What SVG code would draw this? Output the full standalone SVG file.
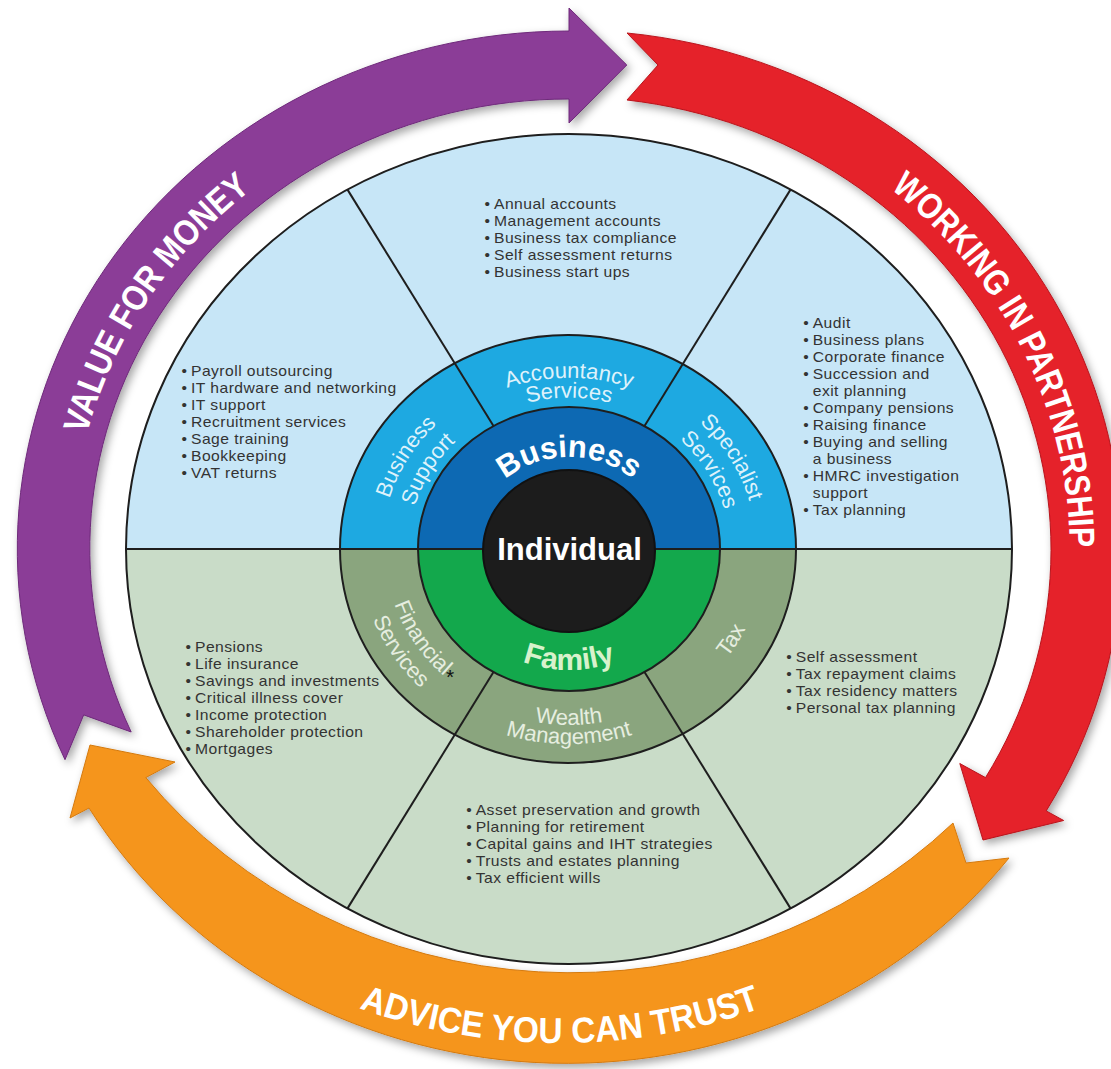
<svg xmlns="http://www.w3.org/2000/svg" width="1111" height="1069" viewBox="0 0 1111 1069">
<defs>
<style>
.bl{font-family:"Liberation Sans",Arial,Helvetica,sans-serif;font-size:14px;fill:#333;letter-spacing:.4px}
.rl{font-family:"Liberation Sans",Arial,sans-serif;font-size:22px;text-anchor:middle}
.rt{fill:#def2fb}
.rb{fill:#e6eee0}
.bg{font-family:"Liberation Sans",Arial,sans-serif;font-weight:bold;font-size:31px;text-anchor:middle}
.at{font-family:"Liberation Sans",Arial,sans-serif;font-weight:bold;font-size:36px;fill:#fff;text-anchor:middle}
.ln{stroke:#1e1e1e;stroke-width:2;fill:none}
</style>
<filter id="sh" x="-10%" y="-10%" width="130%" height="130%">
<feDropShadow dx="3" dy="4" stdDeviation="4" flood-color="#000" flood-opacity=".35"/>
</filter>
<path id="tpPurple" d="M71.9,532.7 A497.4,467 0 0 1 335.5,136.7"/>
<path id="tpRed" d="M856.1,164 A500.6,470 0 0 1 1067.7,590"/>
<path id="tpOrange" d="M198.1,919.2 A563,529 0 0 0 921.9,919.2"/>
<path id="tpAcc1" d="M398.4,490.8 A181.05,170 0 0 1 739.6,490.8"/>
<path id="tpAcc2" d="M418.4,497.7 A159.75,150 0 0 1 719.6,497.7"/>
<path id="tpBs1" d="M392.9,609.2 A187.44,176 0 0 1 536.5,375.7"/>
<path id="tpBs2" d="M417.9,600.6 A160.8,151 0 0 1 541.1,400.3"/>
<path id="tpSp1" d="M601.5,375.7 A187.44,176 0 0 1 745.1,609.2"/>
<path id="tpSp2" d="M596.9,400.3 A160.8,151 0 0 1 720.1,600.6"/>
<path id="tpWe1" d="M392.9,609.2 A187.44,176 0 0 0 745.1,609.2"/>
<path id="tpWe2" d="M373.8,615.7 A207.7,195 0 0 0 764.2,615.7"/>
<path id="tpFi1" d="M393.8,495.5 A184.2,173 0 0 0 543.4,720.3"/>
<path id="tpFi2" d="M369.5,488.1 A209.8,197 0 0 0 539.8,744.1"/>
<path id="tpTax" d="M603,730.2 A195.96,184 0 0 0 753.1,486.1"/>
<path id="tpBus" d="M476.9,517.5 A98,92 0 0 1 661.1,517.5"/>
<path id="tpFam" d="M447.9,590.4 A128.9,121 0 0 0 690.1,590.4"/>
</defs>

<rect width="1111" height="1069" fill="#ffffff"/>

<!-- Outer arrows -->
<g id="arrow-value-for-money">
<path filter="url(#sh)" fill="#8b3c97" stroke="#6e2a7a" stroke-width="1" d="M65,759.7 A551.7,518 0 0 1 569,31 L569,8 L626.8,65 L569,123 L569,99 A479.25,450 0 0 0 131.2,732 L83.7,714.9 Z"/>
<text class="at"><textPath href="#tpPurple" startOffset="50%" textLength="300" lengthAdjust="spacingAndGlyphs">VALUE FOR MONEY</textPath></text>
</g>
<g id="arrow-working-in-partnership">
<path filter="url(#sh)" fill="#e5202a" stroke="#b8161d" stroke-width="1" d="M627,33 A552.7,519 0 0 1 1046.2,810.9 L1063.7,820.5 L983,840 L959.8,763.5 L985.5,777.6 A482.4,453 0 0 0 627,100 L658,65 Z"/>
<text class="at"><textPath href="#tpRed" startOffset="50%" textLength="415" lengthAdjust="spacingAndGlyphs">WORKING IN PARTNERSHIP</textPath></text>
</g>
<g id="arrow-advice-you-can-trust">
<path filter="url(#sh)" fill="#f5951f" stroke="#d47a10" stroke-width="1" d="M1009,858 L966,863 L953,823 A538,505 0 0 1 145.8,777.6 L175,762 L90,745 L70,818 L89,808 A556,522 0 0 0 1009,858 Z"/>
<text class="at"><textPath href="#tpOrange" startOffset="50%" textLength="410" lengthAdjust="spacingAndGlyphs">ADVICE YOU CAN TRUST</textPath></text>
</g>

<!-- Main wheel fills -->
<g id="wheel">
<path fill="#c7e6f7" d="M126,549 A443,415 0 0 1 1012,549 Z"/>
<path fill="#c9dcc8" d="M126,549 A443,415 0 0 0 1012,549 Z"/>
<path fill="#1ea9e1" d="M340,549 A228,214 0 0 1 796,549 Z"/>
<path fill="#8aa57e" d="M340,549 A228,214 0 0 0 796,549 Z"/>
<path fill="#0d69b3" d="M418,549 A151,142 0 0 1 720,549 Z"/>
<path fill="#13a84c" d="M418,549 A151,142 0 0 0 720,549 Z"/>
</g>

<!-- Divider lines -->
<g id="connectors" class="ln">
<line x1="126" y1="549" x2="1012" y2="549"/>
<line x1="493.5" y1="426" x2="347.5" y2="189.6"/>
<line x1="644.5" y1="426" x2="790.5" y2="189.6"/>
<line x1="493.5" y1="672" x2="347.5" y2="908.4"/>
<line x1="644.5" y1="672" x2="790.5" y2="908.4"/>
<ellipse cx="569" cy="549" rx="443" ry="415"/>
<ellipse cx="568" cy="549" rx="228" ry="214"/>
<ellipse cx="569" cy="549" rx="151" ry="142"/>
</g>

<g id="individual">
<ellipse cx="569" cy="551" rx="86" ry="81" fill="#1c1c1c" stroke="#111" stroke-width="2"/>
<text class="bg" x="569.5" y="560" fill="#ffffff">Individual</text>
</g>
<g id="business">
<text class="bg" fill="#ffffff"><textPath href="#tpBus" startOffset="50%">Business</textPath></text>
</g>
<g id="family">
<text class="bg" fill="#d8f2cc" style="font-size:30px"><textPath href="#tpFam" startOffset="50%">Family</textPath></text>
</g>

<!-- Sectors -->
<g id="accountancy-services">
<text class="rl rt"><textPath href="#tpAcc1" startOffset="50%">Accountancy</textPath></text>
<text class="rl rt"><textPath href="#tpAcc2" startOffset="50%">Services</textPath></text>
<text class="bl" transform="matrix(1.12,0,0,1,-58.14,0)"><tspan x="484.5" y="209">•&#8201;Annual accounts</tspan><tspan x="484.5" y="226">•&#8201;Management accounts</tspan><tspan x="484.5" y="243">•&#8201;Business tax compliance</tspan><tspan x="484.5" y="260">•&#8201;Self assessment returns</tspan><tspan x="484.5" y="277">•&#8201;Business start ups</tspan></text>
</g>
<g id="business-support">
<text class="rl rt"><textPath href="#tpBs1" startOffset="50%">Business</textPath></text>
<text class="rl rt"><textPath href="#tpBs2" startOffset="50%">Support</textPath></text>
<text class="bl" transform="matrix(1.12,0,0,1,-21.78,0)"><tspan x="181.5" y="376">•&#8201;Payroll outsourcing</tspan><tspan x="181.5" y="393">•&#8201;IT hardware and networking</tspan><tspan x="181.5" y="410">•&#8201;IT support</tspan><tspan x="181.5" y="427">•&#8201;Recruitment services</tspan><tspan x="181.5" y="444">•&#8201;Sage training</tspan><tspan x="181.5" y="461">•&#8201;Bookkeeping</tspan><tspan x="181.5" y="478">•&#8201;VAT returns</tspan></text>
</g>
<g id="specialist-services">
<text class="rl rt"><textPath href="#tpSp1" startOffset="50%">Specialist</textPath></text>
<text class="rl rt"><textPath href="#tpSp2" startOffset="50%">Services</textPath></text>
<text class="bl" transform="matrix(1.12,0,0,1,-96.38,0)"><tspan x="803.2" y="328">•&#8201;Audit</tspan><tspan x="803.2" y="345">•&#8201;Business plans</tspan><tspan x="803.2" y="362">•&#8201;Corporate finance</tspan><tspan x="803.2" y="379">•&#8201;Succession and</tspan><tspan x="811.7" y="396">exit planning</tspan><tspan x="803.2" y="413">•&#8201;Company pensions</tspan><tspan x="803.2" y="430">•&#8201;Raising finance</tspan><tspan x="803.2" y="447">•&#8201;Buying and selling</tspan><tspan x="811.7" y="464">a business</tspan><tspan x="803.2" y="481">•&#8201;HMRC investigation</tspan><tspan x="811.7" y="498">support</tspan><tspan x="803.2" y="515">•&#8201;Tax planning</tspan></text>
</g>
<g id="financial-services">
<text class="rl rb"><textPath href="#tpFi1" startOffset="50%">Financial</textPath></text>
<text class="rl rb"><textPath href="#tpFi2" startOffset="50%">Services</textPath></text>
<text x="446" y="684" style="font-family:'Liberation Sans',Arial,sans-serif;font-size:21px;fill:#111">*</text>
<text class="bl" transform="matrix(1.12,0,0,1,-22.26,0)"><tspan x="185.5" y="652">•&#8201;Pensions</tspan><tspan x="185.5" y="669">•&#8201;Life insurance</tspan><tspan x="185.5" y="686">•&#8201;Savings and investments</tspan><tspan x="185.5" y="703">•&#8201;Critical illness cover</tspan><tspan x="185.5" y="720">•&#8201;Income protection</tspan><tspan x="185.5" y="737">•&#8201;Shareholder protection</tspan><tspan x="185.5" y="754">•&#8201;Mortgages</tspan></text>
</g>
<g id="wealth-management">
<text class="rl rb"><textPath href="#tpWe1" startOffset="50%">Wealth</textPath></text>
<text class="rl rb"><textPath href="#tpWe2" startOffset="50%">Management</textPath></text>
<text class="bl" transform="matrix(1.12,0,0,1,-55.94,0)"><tspan x="466.2" y="815">•&#8201;Asset preservation and growth</tspan><tspan x="466.2" y="832">•&#8201;Planning for retirement</tspan><tspan x="466.2" y="849">•&#8201;Capital gains and IHT strategies</tspan><tspan x="466.2" y="866">•&#8201;Trusts and estates planning</tspan><tspan x="466.2" y="883">•&#8201;Tax efficient wills</tspan></text>
</g>
<g id="tax">
<text class="rl rb"><textPath href="#tpTax" startOffset="50%">Tax</textPath></text>
<text class="bl" transform="matrix(1.12,0,0,1,-94.34,0)"><tspan x="786.2" y="662">•&#8201;Self assessment</tspan><tspan x="786.2" y="679">•&#8201;Tax repayment claims</tspan><tspan x="786.2" y="696">•&#8201;Tax residency matters</tspan><tspan x="786.2" y="713">•&#8201;Personal tax planning</tspan></text>
</g>
</svg>
